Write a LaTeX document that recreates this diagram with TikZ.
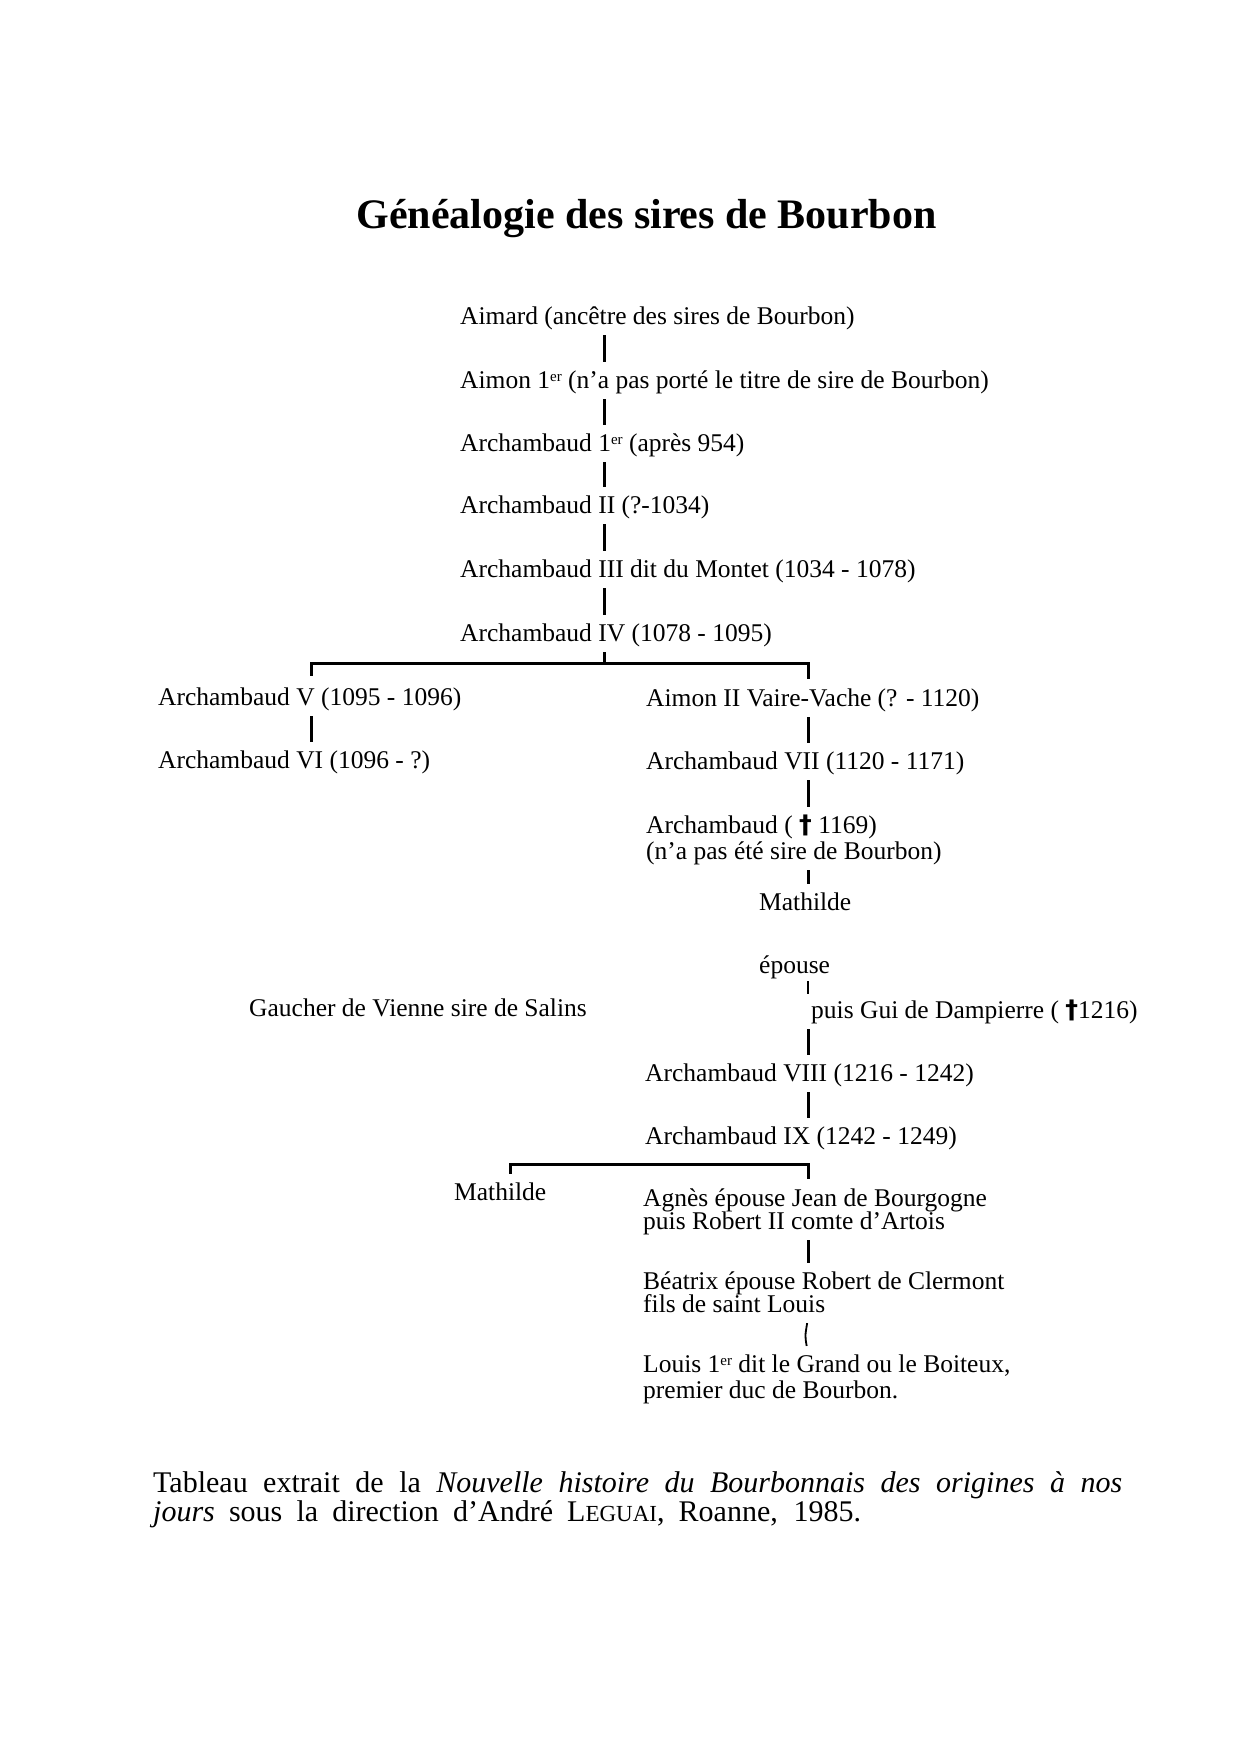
\documentclass[tikz,border=0pt]{standalone}
\usepackage{fontspec}
\usetikzlibrary{calc}
\setmainfont{Liberation Serif}
\newfontfamily\crossfont{DejaVu Sans}
\newcommand{\crx}{{\crossfont\bfseries †}}
\newcommand{\supER}{\raisebox{7pt}{\fontsize{15}{15}\selectfont er}}
\tikzset{
  txt/.style={anchor=base west, inner sep=0pt, font=\fontsize{25.5}{28}\selectfont,
              text height=18pt, text depth=6pt},
  conn/.style={line width=3pt, shorten <=5pt, shorten >=8pt},
  brk/.style={line width=3pt, line join=miter},
  thinconn/.style={line width=1.8pt, shorten <=5pt, shorten >=8pt},
  captxt/.style={anchor=base west, inner sep=0pt, font=\fontsize{30}{33}\selectfont}
}
\begin{document}
\begin{tikzpicture}[x=1pt,y=-1pt]
\useasboundingbox[fill=white] (0,0) rectangle (1239,1754);
% column positions
\coordinate (cA) at (604,0);
\coordinate (cL) at (311,0);
\coordinate (cR) at (808,0);
\coordinate (cM) at (510,0);
\coordinate (bk1) at (0,663);
\coordinate (bk2) at (0,1164);
% title
\node[anchor=base, inner sep=0pt, font=\fontsize{42}{46}\selectfont\bfseries] (title) at (646.5,228) {Généalogie des sires de Bourbon};
% main line
\node[txt] (n1) at (460,324) {Aimard (ancêtre des sires de Bourbon)};
\node[txt] (n2) at (460,388) {Aimon 1\supER{} (n’a pas porté le titre de sire de Bourbon)};
\node[txt] (n3) at (460,451) {Archambaud 1\supER{} (après 954)};
\node[txt] (n4) at (460,513) {Archambaud II (?-1034)};
\node[txt] (n5) at (460,577) {Archambaud III dit du Montet (1034 - 1078)};
\node[txt] (n6) at (460,641) {Archambaud IV (1078 - 1095)};
% left branch
\node[txt] (n7) at (158,705) {Archambaud V (1095 - 1096)};
\node[txt] (n8) at (158,768) {Archambaud VI (1096 - ?)};
% right branch
\node[txt] (n9) at (646,706) {Aimon II Vaire-Vache (? - 1120)};
\node[txt] (n10) at (646,769) {Archambaud VII (1120 - 1171)};
\node[txt] (n11a) at (646,833) {Archambaud ( \crx{} 1169)};
\node[txt] (n11b) at (646,859) {(n’a pas été sire de Bourbon)};
\node[txt] (n12) at (759,910) {Mathilde};
\node[txt] (n13) at (759,973) {épouse};
\node[txt] (n14) at (249,1016) {Gaucher de Vienne sire de Salins};
\node[txt] (n15) at (811,1018) {puis Gui de Dampierre ( \crx1216)};
\node[txt] (n16) at (645,1081) {Archambaud VIII (1216 - 1242)};
\node[txt] (n17) at (645,1144) {Archambaud IX (1242 - 1249)};
\node[txt] (n18) at (454,1200) {Mathilde};
\node[txt] (n19a) at (643,1206) {Agnès épouse Jean de Bourgogne};
\node[txt] (n19b) at (643,1229) {puis Robert II comte d’Artois};
\node[txt] (n20a) at (643,1289) {Béatrix épouse Robert de Clermont};
\node[txt] (n20b) at (643,1312) {fils de saint Louis};
\node[txt] (n21a) at (643,1372) {Louis 1\supER{} dit le Grand ou le Boiteux,};
\node[txt] (n21b) at (643,1398) {premier duc de Bourbon.};
% caption
\node[captxt] (cap1) at (153,1492) {\makebox[969pt][s]{Tableau extrait de la \textit{Nouvelle histoire du Bourbonnais des origines à nos}}};
\node[captxt] (cap2) at (153,1521) {\makebox[708pt][s]{\textit{jours} sous la direction d’André L{\fontsize{23}{23}\selectfont EGUAI}, Roanne, 1985.}};
% connectors main line
\draw[conn] (n1.south -| cA) -- (n2.north -| cA);
\draw[conn] (n2.south -| cA) -- (n3.north -| cA);
\draw[conn] (n3.south -| cA) -- (n4.north -| cA);
\draw[conn] (n4.south -| cA) -- (n5.north -| cA);
\draw[conn] (n5.south -| cA) -- (n6.north -| cA);
% first bracket
\draw[brk, shorten <=5pt] (n6.south -| cA) -- (bk1 -| cA);
\draw[brk, shorten <=11pt, shorten >=9pt] (n7.north -| cL) |- (bk1 -| cR) -- (n9.north -| cR);
% left branch
\draw[conn] (n7.south -| cL) -- (n8.north -| cL);
% right branch
\draw[conn] (n9.south -| cR) -- (n10.north -| cR);
\draw[conn] (n10.south -| cR) -- (n11a.north -| cR);
\draw[conn] (n11b.south -| cR) -- (n12.north -| cR);
\draw[line width=2.4pt, shorten <=2pt, shorten >=6pt] (n13.south -| cR) -- (n15.north -| cR);
\draw[conn] (n15.south -| cR) -- (n16.north -| cR);
\draw[conn] (n16.south -| cR) -- (n17.north -| cR);
% second bracket
\draw[brk, shorten <=8pt, shorten >=9pt] (n18.north -| cM) |- (bk2 -| cR) -- (n19a.north -| cR);
\draw[conn] (n19b.south -| cR) -- (n20a.north -| cR);
\draw[thinconn] (n20b.south -| cR) .. controls ([xshift=-3pt]$(n20b.south -| cR)!0.5!(n21a.north -| cR)$) .. (n21a.north -| cR);
\end{tikzpicture}
\end{document}
